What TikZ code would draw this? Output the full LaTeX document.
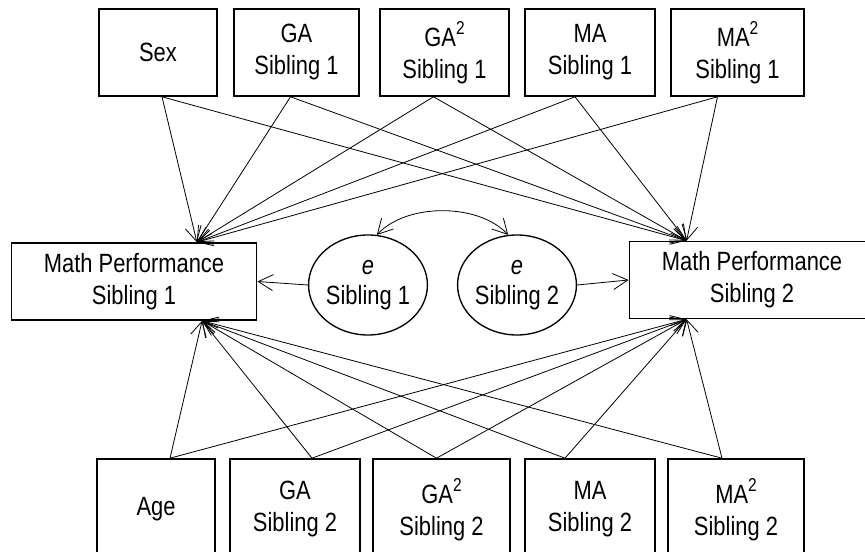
\documentclass[tikz,border=0pt]{standalone}
\usepackage{fontspec}
\setmainfont{Liberation Sans}[FakeStretch=0.83]
\usetikzlibrary{arrows.meta,shapes.geometric}

\newcommand{\sqr}{\raisebox{0.85ex}{\fontsize{14}{14}\selectfont 2}}

\tikzset{every picture/.style={line width=0.75pt}}
\tikzset{
	varbox/.style={draw, line width=1.2pt, align=center, inner sep=0pt, minimum height=65.25pt, font=\fontsize{19.8}{24}\selectfont},
	perfbox/.style={varbox, minimum width=184pt, minimum height=57.75pt},
	errcirc/.style={draw, ellipse, line width=1pt, align=center, inner sep=0pt, minimum width=82.5pt, minimum height=75pt, font=\fontsize{19.8}{23}\selectfont},
	pth/.style={-{Straight Barb[length=11pt,width=12pt]}, line width=0.6pt},
	dpth/.style={{Straight Barb[length=11pt,width=12pt]}-{Straight Barb[length=11pt,width=12pt]}, line width=0.6pt}
}

\begin{document}
\begin{tikzpicture}[x=0.75pt,y=0.75pt,yscale=-1,xscale=1]
	\useasboundingbox (0,0) rectangle (865,552);
	\clip (0,0) rectangle (865,552);

	% Predictors Sibling 1
	\node [varbox, minimum width=88.5pt] (sex) at (158,52.5) {Sex};
	\node [varbox, minimum width=93.75pt] (ga1) at (296.5,52.5) {GA\\Sibling 1};
	\node [varbox, minimum width=96.75pt] (gaq1) at (444.5,52.5) {GA\sqr\\Sibling 1};
	\node [varbox, minimum width=97.5pt] (ma1) at (590,52.5) {MA\\Sibling 1};
	\node [varbox, minimum width=99.75pt] (maq1) at (737.5,52.5) {MA\sqr\\Sibling 1};

	% Outcomes
	\node [perfbox] (mp1) at (134,281.5) {Math Performance\\Sibling 1};
	\node [perfbox] (mp2) at (752,280) {Math Performance\\Sibling 2};

	% Residuals
	\node [errcirc] (e1) at (368,285) {\textit{e}\\Sibling 1};
	\node [errcirc] (e2) at (517,285) {\textit{e}\\Sibling 2};

	% Predictors Sibling 2
	\node [varbox, minimum width=88.5pt, minimum height=75.75pt] (age) at (156,509.5) {Age};
	\node [varbox, minimum width=97.5pt, minimum height=75.75pt] (ga2) at (295,509.5) {GA\\Sibling 2};
	\node [varbox, minimum width=102.75pt, minimum height=75.75pt] (gaq2) at (441.5,509.5) {GA\sqr\\Sibling 2};
	\node [varbox, minimum width=97.5pt, minimum height=75.75pt] (ma2) at (590,509.5) {MA\\Sibling 2};
	\node [varbox, minimum width=102pt, minimum height=75.75pt] (maq2) at (736,509.5) {MA\sqr\\Sibling 2};

	% Residual paths
	\draw [pth] (e1.west) -- (mp1.east);
	\draw [pth] (e2.east) -- (mp2.west);
	\draw [dpth] (e1.80) .. controls +(30,-32) and +(-30,-32) .. (e2.100);

	% Top row to Sibling 1
	\draw [pth] ([xshift=3pt]sex.south) -- (mp1.32);
	\draw [pth] ([xshift=-4.5pt]ga1.south) -- (mp1.32);
	\draw [pth] ([xshift=-8.25pt]gaq1.south) -- (mp1.32);
	\draw [pth] ([xshift=-11.25pt]ma1.south) -- (mp1.32);
	\draw [pth] ([xshift=-15pt]maq1.south) -- (mp1.32);
	% Top row to Sibling 2
	\draw [pth] ([xshift=3pt]sex.south) -- (mp2.149);
	\draw [pth] ([xshift=-4.5pt]ga1.south) -- (mp2.149);
	\draw [pth] ([xshift=-8.25pt]gaq1.south) -- (mp2.149);
	\draw [pth] ([xshift=-11.25pt]ma1.south) -- (mp2.149);
	\draw [pth] ([xshift=-15pt]maq1.south) -- (mp2.149);

	% Bottom row to Sibling 1
	\draw [pth] ([xshift=10.5pt]age.north) -- (mp1.-30);
	\draw [pth] ([xshift=12.75pt]ga2.north) -- (mp1.-30);
	\draw [pth] ([xshift=-3.75pt]gaq2.north) -- (mp1.-30);
	\draw [pth] ([xshift=-18.75pt]ma2.north) -- (mp1.-30);
	\draw [pth] ([xshift=-10.5pt]maq2.north) -- (mp1.-30);
	% Bottom row to Sibling 2
	\draw [pth] ([xshift=10.5pt]age.north) -- (mp2.-149);
	\draw [pth] ([xshift=12.75pt]ga2.north) -- (mp2.-149);
	\draw [pth] ([xshift=-3.75pt]gaq2.north) -- (mp2.-149);
	\draw [pth] ([xshift=-18.75pt]ma2.north) -- (mp2.-149);
	\draw [pth] ([xshift=-10.5pt]maq2.north) -- (mp2.-149);

\end{tikzpicture}
\end{document}
